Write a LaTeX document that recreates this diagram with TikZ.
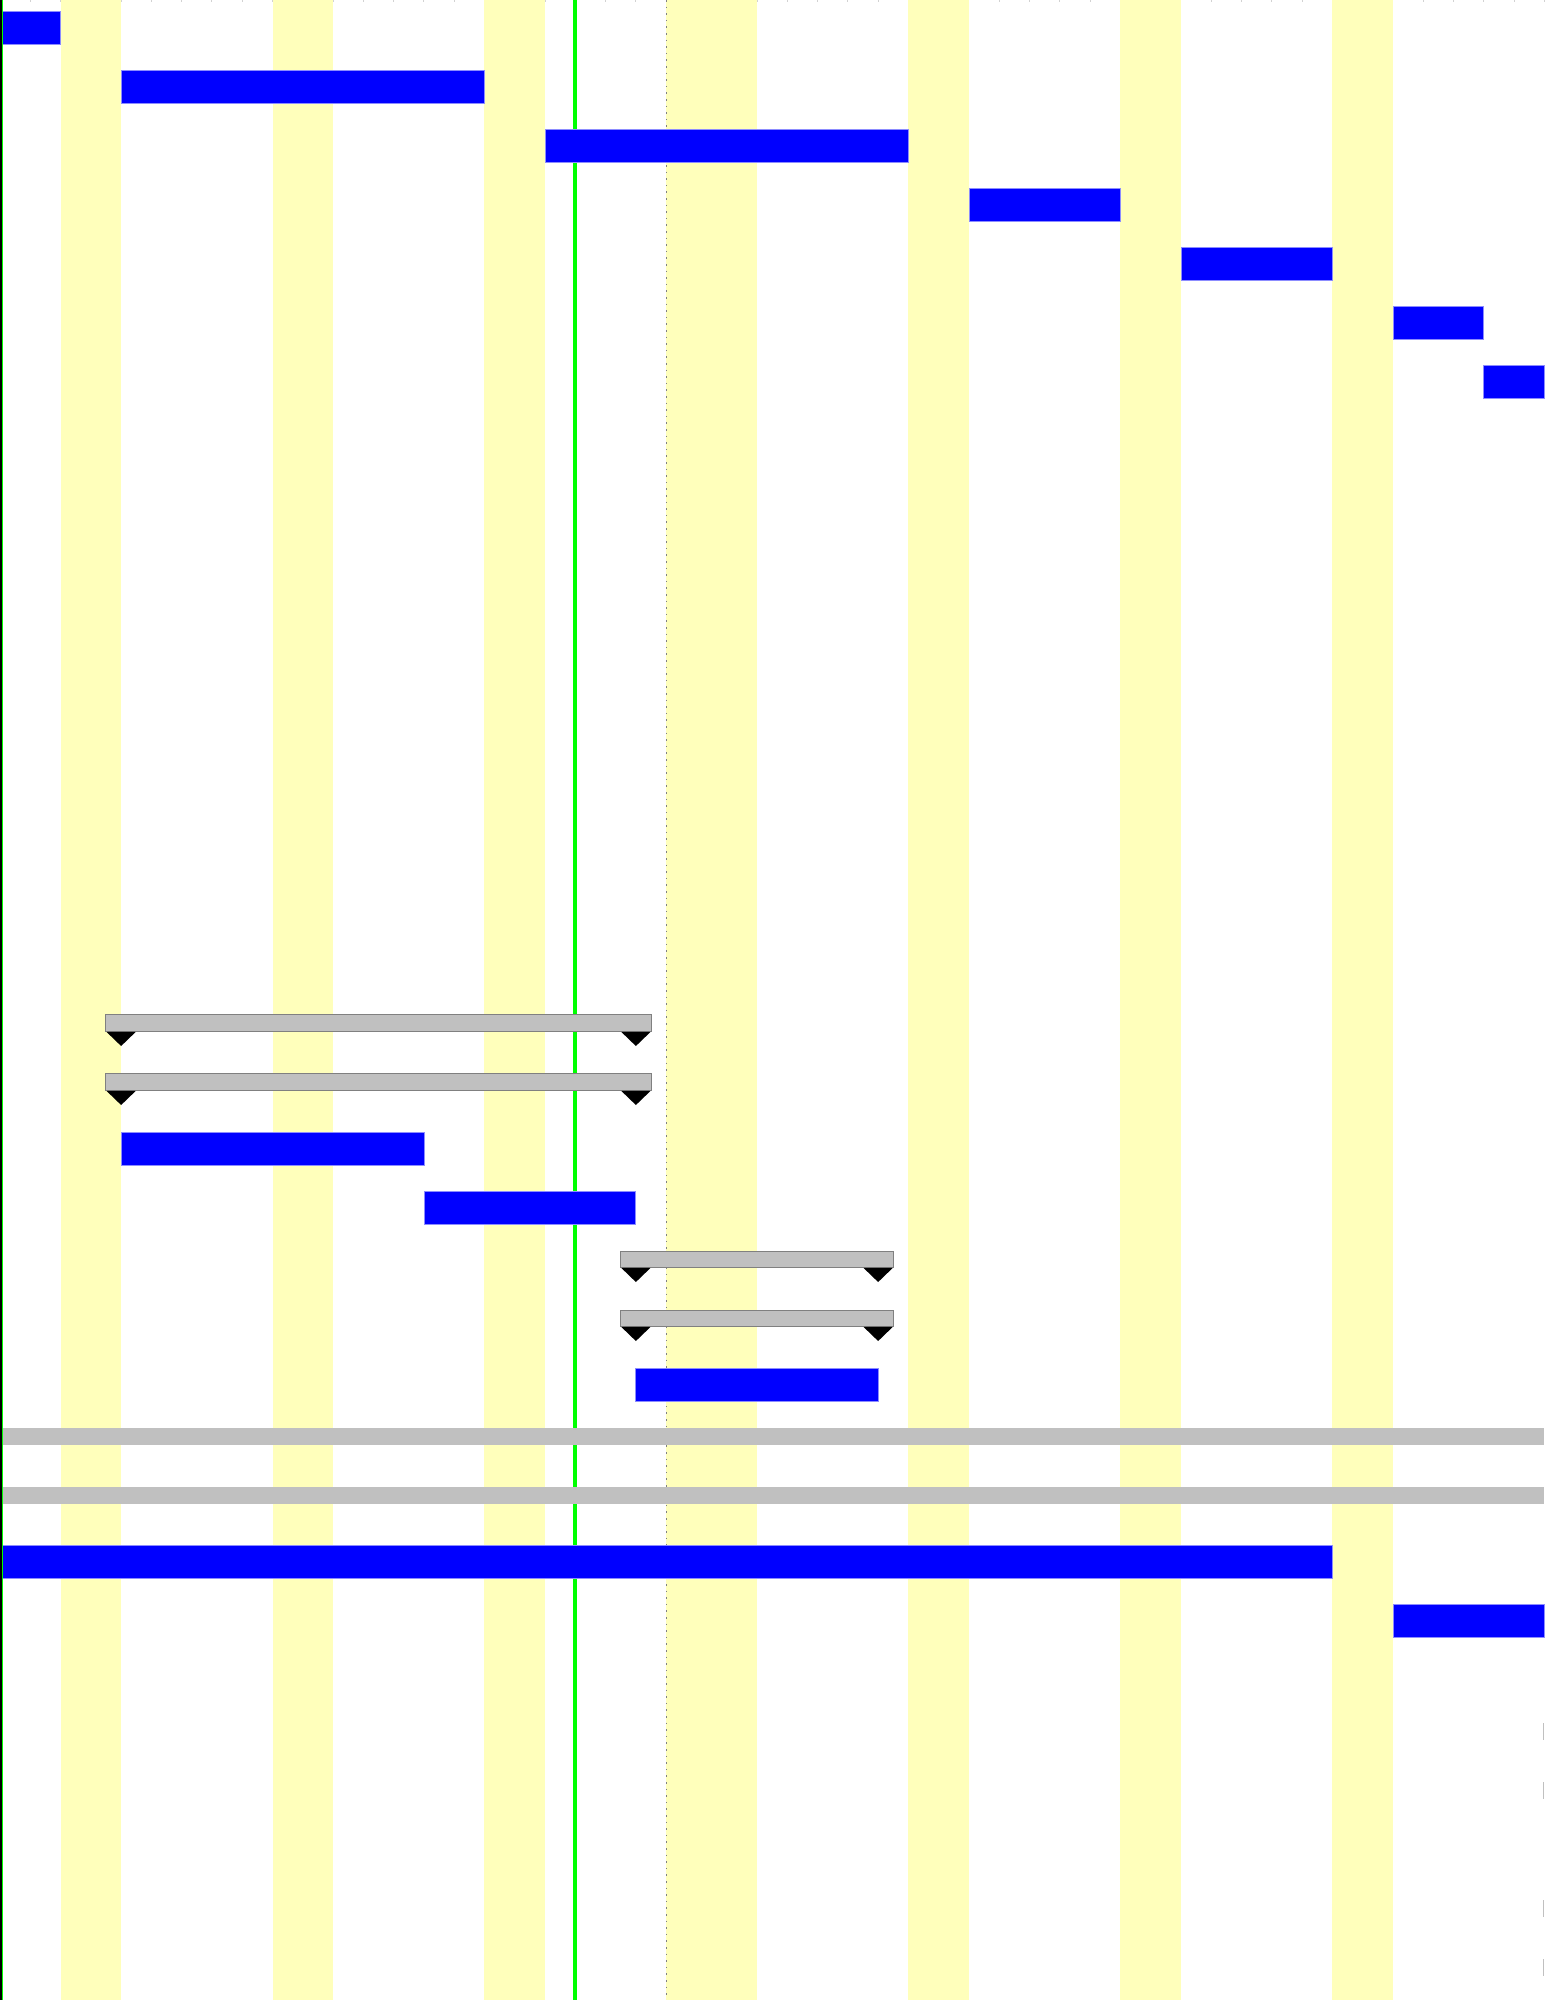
\documentclass[tikz,border=0pt]{standalone}
\usepackage[dvipsnames]{xcolor}

\definecolor{weekendfill}{HTML}{FFFFBB}
\definecolor{summaryfill}{HTML}{C0C0C0}
\definecolor{taskedge}{HTML}{8C8CFF}

\begin{document}
\begin{tikzpicture}[x=15.14pt,y=-29.5pt,
    task bar/.style={fill=blue,draw=taskedge,line width=0.4pt},
    sum bar/.style={fill=summaryfill,draw=gray,line width=0.5pt},
    sum tip/.style={fill=black},
    weekend/.style={fill=weekendfill},
    day tick/.style={draw=gray!35,line width=0.5pt}]

    \useasboundingbox (0,0) rectangle (51.19,33.898);

    \foreach \d in {1,...,51}
        \draw[day tick] (\d,0) -- (\d,0.03);

    \foreach \a/\b in {2/4,9/11,16/18,22/25,30/32,37/39,44/46}
        \fill[weekend] (\a,0) rectangle (\b,33.898);

    \coordinate (today top) at (19,0);
    \coordinate (today bottom) at (19,33.898);
    \coordinate (status top) at (22,0);
    \coordinate (status bottom) at (22,33.898);
    \draw[green,line width=2pt] (today top) -- (today bottom);
    \draw[gray,line width=0.6pt,dash pattern=on 0.8pt off 2.5pt] (status top) -- (status bottom);

    \foreach \r/\s/\e in {0/0/2,1/4/16,2/18/30,3/32/37,4/39/44,5/46/49,6/49/51,
                          19/4/14,20/14/21,23/21/29,26/0/44,27/46/51}
        \draw[task bar] (\s,\r+0.186) rectangle (\e,\r+0.746);

    \foreach \r/\s/\e in {17/4/21,18/4/21,21/21/29,22/21/29}{
        \draw[sum bar] (\s-0.5,\r+0.203) rectangle (\e+0.5,\r+0.491);
        \fill[sum tip] (\s-0.48,\r+0.491) -- (\s+0.48,\r+0.491) -- (\s,\r+0.729) -- cycle;
        \fill[sum tip] (\e-0.48,\r+0.491) -- (\e+0.48,\r+0.491) -- (\e,\r+0.729) -- cycle;
    }

    \foreach \r in {24,25}
        \fill[summaryfill] (0.066,\r+0.203) rectangle (51,\r+0.491);
    \foreach \r in {29,30,32,33}
        \fill[summaryfill] (50.94,\r+0.203) rectangle (51,\r+0.491);

    \draw[black,line width=1pt] (0.033,0) -- (0.033,33.898);
    \draw[green,line width=0.5pt] (0.083,0) -- (0.083,33.898);
\end{tikzpicture}
\end{document}
